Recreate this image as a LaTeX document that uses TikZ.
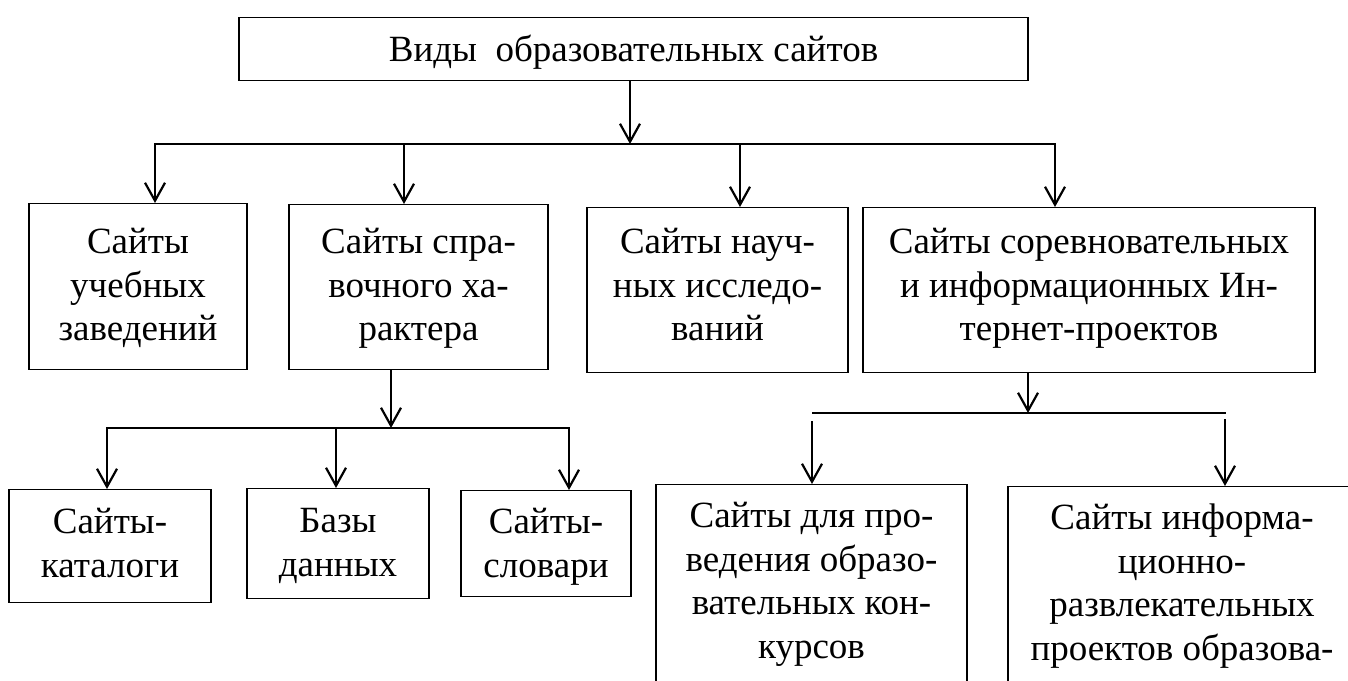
\documentclass[tikz,border=0pt]{standalone}
\usepackage{fontspec}
\setmainfont{Liberation Serif}
\usetikzlibrary{arrows.meta}
\newcommand{\ml}[1]{\begin{tabular}[t]{@{}c@{}}#1\end{tabular}}
\begin{document}
\begin{tikzpicture}[x=1pt,y=-1pt,
  box/.style={draw, line width=1.3pt, inner sep=0pt, anchor=north,
    font=\fontsize{37}{43.5}\selectfont},
  conn/.style={line width=2.2pt, line cap=rect},
  arr/.style={line width=2.2pt, -{Straight Barb[length=18pt,width=20pt]}}]
\useasboundingbox (0,0) rectangle (1348,680);
\clip (0,0) rectangle (1348,680);

% boxes: anchor north at (cx, top); text height = first baseline - top; text depth = bottom - first baseline
\node[box, minimum width=789pt, text height=44pt, text depth=19pt] (top) at (633.5,17) {\ml{Виды\ \ образовательных сайтов}};

\node[box, minimum width=218pt, text height=50pt, text depth=116pt] (b1) at (138,203) {\ml{Сайты\\учебных\\заведений}};
\node[box, minimum width=259pt, text height=49pt, text depth=116pt] (b2) at (418.5,204) {\ml{Сайты спра-\\вочного ха-\\рактера}};
\node[box, minimum width=261pt, text height=46pt, text depth=119pt] (b3) at (717.5,207) {\ml{Сайты науч-\\ных исследо-\\ваний}};
\node[box, minimum width=452pt, text height=46pt, text depth=119pt] (b4) at (1089,207) {\ml{Сайты соревновательных\\и информационных Ин-\\тернет-проектов}};

\node[box, minimum width=202pt, text height=44pt, text depth=69pt] (b5) at (110,489) {\ml{Сайты-\\каталоги}};
\node[box, minimum width=182pt, text height=44pt, text depth=66pt] (b6) at (338,488) {\ml{Базы\\данных}};
\node[box, minimum width=170pt, text height=43pt, text depth=63pt] (b7) at (546,490) {\ml{Сайты-\\словари}};

\node[box, minimum width=311pt, text height=43pt, text depth=200pt] (b8) at (811.5,484) {\ml{Сайты для про-\\ведения образо-\\вательных кон-\\курсов}};
\node[box, minimum width=348pt, text height=43pt, text depth=200pt] (b9) at (1182,486) {\ml{Сайты информа-\\ционно-\\развлекательных\\проектов образова-}};

% level 1 connectors
\coordinate (j1) at (630,144);
\coordinate (h1l) at (155,144);
\coordinate (h1r) at (1055,144);
\coordinate (a2) at (404,144);
\coordinate (a3) at (740,144);
\draw[arr] (top.south -| j1) -- (j1);
\draw[conn] (h1l) -- (h1r);
\draw[arr] (h1l) -- (h1l |- b1.north);
\draw[arr] (a2) -- (a2 |- b2.north);
\draw[arr] (a3) -- (a3 |- b3.north);
\draw[arr] (h1r) -- (h1r |- b4.north);

% level 2 left
\coordinate (j2) at (391,428);
\coordinate (h2l) at (107,428);
\coordinate (h2r) at (569,428);
\coordinate (a6) at (336,427);
\draw[arr] (j2 |- b2.south) -- (j2);
\draw[conn] (h2l) -- (h2r);
\draw[arr] (h2l) -- (h2l |- b5.north);
\draw[arr] (a6) -- (a6 |- b6.north);
\draw[arr] (h2r) -- (h2r |- b7.north);

% level 2 right
\coordinate (j3) at (1028,413);
\coordinate (h3l) at (813,413);
\coordinate (h3r) at (1225,413);
\coordinate (s8) at (812,421);
\coordinate (s9) at (1225,419);
\draw[arr] (j3 |- b4.south) -- (j3);
\draw[conn] (h3l) -- (h3r);
\draw[arr] (s8) -- (s8 |- b8.north);
\draw[arr] (s9) -- (s9 |- b9.north);
\end{tikzpicture}
\end{document}
